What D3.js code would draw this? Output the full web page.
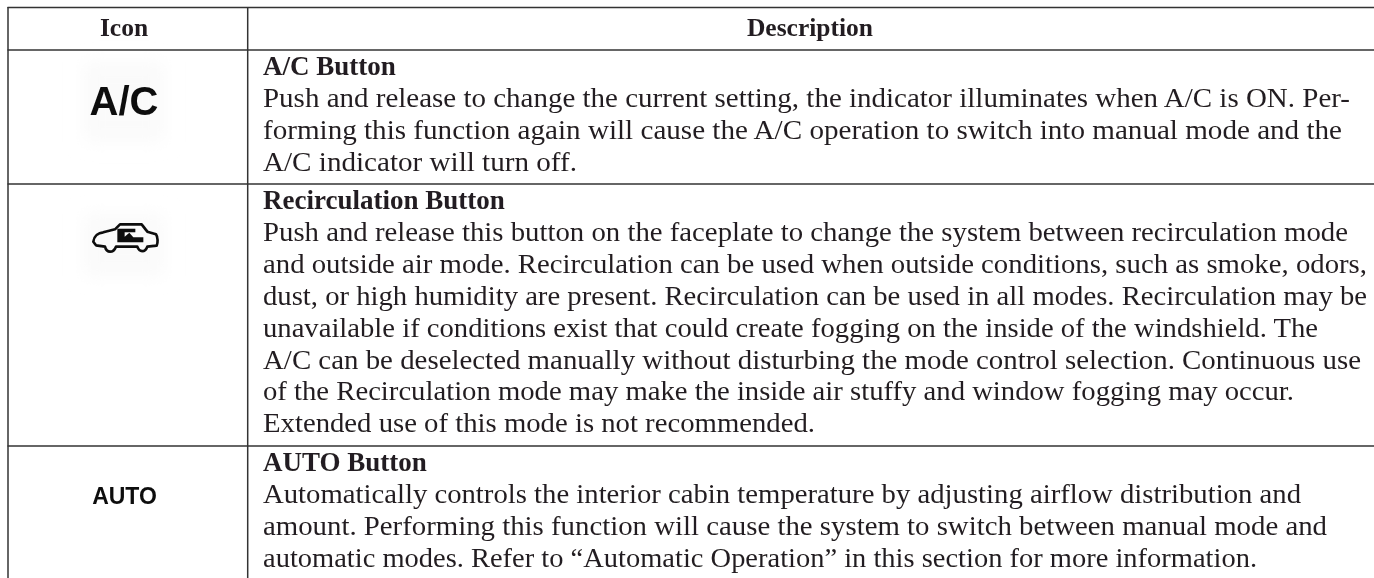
<!DOCTYPE html>
<html>
<head>
<meta charset="utf-8">
<script src="https://cdn.jsdelivr.net/npm/d3@7"></script>
<style>
  html, body { margin: 0; background: #fff; }
  svg { display: block; }
</style>
</head>
<body>
<svg id="chart" width="1374" height="578"></svg>
<script>
var headers = ['Icon', 'Description'];
var titles = ['A/C Button', 'Recirculation Button', 'AUTO Button'];
var bodies = [
    ['Push and release to change the current setting, the indicator illuminates when A/C is ON. Per-',
     'forming this function again will cause the A/C operation to switch into manual mode and the',
     'A/C indicator will turn off.'],
    ['Push and release this button on the faceplate to change the system between recirculation mode',
     'and outside air mode. Recirculation can be used when outside conditions, such as smoke, odors,',
     'dust, or high humidity are present. Recirculation can be used in all modes. Recirculation may be',
     'unavailable if conditions exist that could create fogging on the inside of the windshield. The',
     'A/C can be deselected manually without disturbing the mode control selection. Continuous use',
     'of the Recirculation mode may make the inside air stuffy and window fogging may occur.',
     'Extended use of this mode is not recommended.'],
    ['Automatically controls the interior cabin temperature by adjusting airflow distribution and',
     'amount. Performing this function will cause the system to switch between manual mode and',
     'automatic modes. Refer to \u201cAutomatic Operation\u201d in this section for more information.']
];
var rowLines = [7.5, 50, 184, 446];
// where each body line stops in the reference, the serif here runs narrower
var lineEnds = [
    [1350, 1342, 577],
    [1348, 1367, 1367, 1318, 1361, 1294, 815],
    [1301, 1327, 1257]
];

var svg = d3.select('#chart');
var ink = '#231f20';
var serif = '"Liberation Serif", serif';
var sans = '"Liberation Sans", sans-serif';

var defs = svg.append('defs');
defs.append('filter').attr('id', 'soft').append('feGaussianBlur').attr('stdDeviation', 0.35);
defs.append('filter').attr('id', 'iconSoft').append('feGaussianBlur').attr('stdDeviation', 0.7);
defs.append('filter').attr('id', 'halo')
    .attr('x', '-30%').attr('y', '-30%').attr('width', '160%').attr('height', '160%')
    .append('feGaussianBlur').attr('stdDeviation', 9);

// faint scan halo behind the icons
svg.selectAll('.halo').data([[124, 102, 80, 80], [124, 245, 80, 62]]).enter().append('rect')
    .attr('class', 'halo')
    .attr('x', function(d) { return d[0] - d[2] / 2; })
    .attr('y', function(d) { return d[1] - d[3] / 2; })
    .attr('width', function(d) { return d[2]; })
    .attr('height', function(d) { return d[3]; })
    .attr('fill', '#fafafa').attr('filter', 'url(#halo)');

// horizontal rules
svg.selectAll('.rule').data(rowLines).enter().append('line')
    .attr('class', 'rule')
    .attr('x1', 7.5).attr('x2', 1374)
    .attr('y1', function(d) { return d; })
    .attr('y2', function(d) { return d; })
    .attr('stroke', '#333').attr('stroke-width', 1.5);

// column rules
svg.selectAll('.col').data([8, 247.7]).enter().append('line')
    .attr('class', 'col')
    .attr('x1', function(d) { return d; })
    .attr('x2', function(d) { return d; })
    .attr('y1', 7).attr('y2', 578)
    .attr('stroke', '#333').attr('stroke-width', 1.5);

var textLayer = svg.append('g').attr('filter', 'url(#soft)');

textLayer.selectAll('.head').data(headers).enter().append('text')
    .attr('class', 'head')
    .attr('x', function(d, i) { return i ? 810 : 124; })
    .attr('y', 36)
    .attr('text-anchor', 'middle')
    .attr('font-family', serif).attr('font-weight', 'bold')
    .attr('font-size', 25.5).attr('fill', ink)
    .text(function(d) { return d; });

var lineHeight = 31.9;
titles.forEach(function(t, r) {
    var top = rowLines[r + 1];
    textLayer.append('text')
        .attr('x', 263).attr('y', top + 25)
        .attr('font-family', serif).attr('font-weight', 'bold')
        .attr('font-size', 27).attr('fill', ink)
        .text(t);
    textLayer.selectAll('.ln' + r).data(bodies[r]).enter().append('text')
        .attr('class', 'ln' + r)
        .attr('x', 263)
        .attr('y', function(d, i) { return top + 25 + (i + 1) * lineHeight; })
        .attr('font-family', serif)
        .attr('font-size', 27.5).attr('fill', ink)
        .attr('textLength', function(d, i) { return lineEnds[r][i] - 263; })
        .attr('lengthAdjust', 'spacingAndGlyphs')
        .text(function(d) { return d; });
});

// icons
var iconLayer = svg.append('g').attr('filter', 'url(#iconSoft)');
iconLayer.append('text').attr('x', 124).attr('y', 115).attr('text-anchor', 'middle')
    .attr('font-family', sans).attr('font-weight', 'bold')
    .attr('font-size', 40).attr('fill', '#111').text('A/C');
iconLayer.append('text').attr('x', 124.5).attr('y', 504).attr('text-anchor', 'middle')
    .attr('font-family', sans).attr('font-weight', 'bold')
    .attr('font-size', 23).attr('fill', '#111').text('AUTO');

var car = iconLayer.append('g').attr('transform', 'translate(60,200) scale(0.3333)');
car.append('path')
    .attr('d', 'M100,125 C102,108 115,98 130,97 L165,88 L180,73 L245,73 L262,95 L288,103 C294,112 294,128 290,137 L262,140 C255,158 238,158 232,140 L168,140 C160,160 140,160 135,140 L108,136 Z')
    .attr('fill', 'none').attr('stroke', '#111').attr('stroke-width', 8).attr('stroke-linejoin', 'round');
car.append('path')
    .attr('d', 'M172,86 L226,86 L226,97 L194,97 L194,110 L208,98 L220,112 L250,112 L250,127 L172,127 Z')
    .attr('fill', '#111');
</script>
</body>
</html>
